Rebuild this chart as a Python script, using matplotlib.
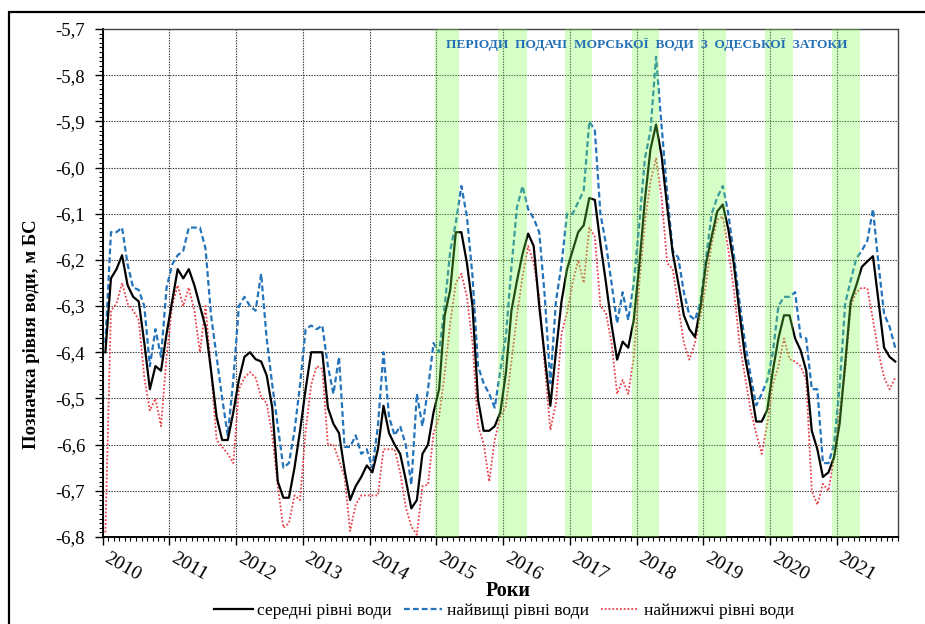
import numpy as np
import matplotlib
matplotlib.use('Agg')
import matplotlib.pyplot as plt
from matplotlib import transforms
from matplotlib.patches import Rectangle
from matplotlib.lines import Line2D
from matplotlib.ticker import FixedLocator, FuncFormatter

plt.rcParams['font.family'] = ['Liberation Serif', 'DejaVu Serif']
plt.rcParams['axes.unicode_minus'] = False

# ---------------- data ----------------
year_labels = ['2010', '2011', '2012', '2013', '2014', '2015', '2016', '2017', '2018', '2019', '2020', '2021']
y_ticks = [-6.8, -6.7, -6.6, -6.5, -6.4, -6.3, -6.2, -6.1, -6.0, -5.9, -5.8, -5.7]

# monthly values Jan 2010 .. Nov 2021
mean_level = [
    -6.40, -6.24, -6.22, -6.19, -6.255, -6.28, -6.29, -6.38, -6.48, -6.43, -6.44, -6.36,
    -6.29, -6.22, -6.24, -6.22, -6.255, -6.30, -6.345, -6.44, -6.54, -6.59, -6.59, -6.53,
    -6.46, -6.41, -6.40, -6.415, -6.42, -6.45, -6.52, -6.68, -6.715, -6.715, -6.65, -6.57,
    -6.48, -6.40, -6.40, -6.40, -6.52, -6.555, -6.575, -6.655, -6.72, -6.69, -6.67, -6.645,
    -6.66, -6.61, -6.516, -6.575, -6.60, -6.62, -6.676, -6.738, -6.72, -6.62, -6.60, -6.53,
    -6.48, -6.32, -6.265, -6.14, -6.14, -6.207, -6.30, -6.503, -6.57, -6.57, -6.56, -6.53,
    -6.445, -6.31, -6.245, -6.187, -6.143, -6.17, -6.30, -6.41, -6.516, -6.40, -6.29, -6.22,
    -6.18, -6.14, -6.125, -6.066, -6.07, -6.165, -6.25, -6.34, -6.416, -6.377, -6.39, -6.33,
    -6.21, -6.07, -5.96, -5.907, -5.975, -6.085, -6.185, -6.25, -6.32, -6.35, -6.367, -6.30,
    -6.207, -6.149, -6.095, -6.08, -6.134, -6.21, -6.315, -6.41, -6.474, -6.55, -6.55, -6.525,
    -6.44, -6.37, -6.32, -6.32, -6.37, -6.396, -6.44, -6.57, -6.61, -6.67, -6.66, -6.627,
    -6.555, -6.425, -6.29, -6.255, -6.215, -6.203, -6.192, -6.29, -6.39, -6.41, -6.42,
]
max_level = [
    -6.38, -6.14, -6.14, -6.13, -6.21, -6.26, -6.265, -6.30, -6.43, -6.35, -6.41, -6.26,
    -6.21, -6.19, -6.18, -6.13, -6.13, -6.13, -6.175, -6.32, -6.41, -6.50, -6.58, -6.46,
    -6.30, -6.28, -6.30, -6.31, -6.23, -6.37, -6.47, -6.56, -6.65, -6.64, -6.57, -6.47,
    -6.35, -6.342, -6.35, -6.342, -6.43, -6.49, -6.41, -6.605, -6.605, -6.58, -6.62, -6.61,
    -6.65, -6.56, -6.40, -6.54, -6.58, -6.56, -6.60, -6.687, -6.49, -6.56, -6.48, -6.38,
    -6.40, -6.30, -6.18, -6.12, -6.04, -6.106, -6.235, -6.43, -6.467, -6.49, -6.52, -6.44,
    -6.366, -6.216, -6.086, -6.04, -6.09, -6.11, -6.14, -6.28, -6.467, -6.29, -6.21, -6.10,
    -6.10, -6.075, -6.05, -5.90, -5.92, -6.10, -6.166, -6.25, -6.337, -6.27, -6.33, -6.25,
    -6.12, -5.98, -5.92, -5.76, -5.91, -6.055, -6.18, -6.195, -6.27, -6.32, -6.33, -6.29,
    -6.195, -6.10, -6.065, -6.04, -6.10, -6.19, -6.29, -6.38, -6.45, -6.515, -6.49, -6.46,
    -6.40, -6.30, -6.28, -6.28, -6.27, -6.367, -6.37, -6.48, -6.48, -6.64, -6.64, -6.60,
    -6.475, -6.295, -6.244, -6.197, -6.18, -6.158, -6.09, -6.21, -6.317, -6.345, -6.39,
]
min_level = [
    -6.79, -6.31, -6.295, -6.25, -6.295, -6.31, -6.33, -6.455, -6.526, -6.50, -6.56, -6.41,
    -6.30, -6.255, -6.30, -6.26, -6.31, -6.40, -6.30, -6.44, -6.59, -6.605, -6.62, -6.64,
    -6.48, -6.455, -6.443, -6.455, -6.497, -6.51, -6.58, -6.69, -6.78, -6.77, -6.71, -6.72,
    -6.57, -6.47, -6.43, -6.436, -6.60, -6.60, -6.634, -6.67, -6.787, -6.73, -6.71, -6.71,
    -6.71, -6.71, -6.61, -6.61, -6.61, -6.66, -6.735, -6.777, -6.795, -6.69, -6.687, -6.575,
    -6.54, -6.445, -6.337, -6.25, -6.23, -6.28, -6.38, -6.56, -6.597, -6.68, -6.59, -6.54,
    -6.517, -6.42, -6.32, -6.236, -6.17, -6.207, -6.28, -6.43, -6.568, -6.51, -6.36, -6.315,
    -6.25, -6.20, -6.25, -6.13, -6.15, -6.30, -6.315, -6.38, -6.49, -6.46, -6.49, -6.41,
    -6.25, -6.12, -6.03, -5.98, -6.065, -6.207, -6.22, -6.30, -6.38, -6.416, -6.38, -6.32,
    -6.25, -6.165, -6.113, -6.106, -6.178, -6.265, -6.38, -6.452, -6.525, -6.575, -6.62, -6.555,
    -6.47, -6.43, -6.37, -6.415, -6.42, -6.43, -6.46, -6.70, -6.73, -6.685, -6.70, -6.63,
    -6.53, -6.44, -6.30, -6.27, -6.26, -6.262, -6.33, -6.40, -6.455, -6.48, -6.455,
]

# sea-water supply periods (fractional years)
band_start = [2014.985, 2015.925, 2016.93, 2017.925, 2018.925, 2019.925, 2020.93]
band_end = [2015.34, 2016.36, 2017.335, 2018.335, 2019.34, 2020.345, 2021.35]

labels = ['середні рівні води', 'найвищі рівні води', 'найнижчі рівні води']
title_text = 'ПЕРІОДИ  ПОДАЧІ  МОРСЬКОЇ  ВОДИ  З  ОДЕСЬКОЇ  ЗАТОКИ'
ylabel_text = 'Позначка рівня води, м БС'
xlabel_text = 'Роки'

# ---------------- figure ----------------
W, H = 925, 624
fig = plt.figure(figsize=(W / 100, H / 100), dpi=100)
L, R, T, B = 102.6, 898.0, 29.0, 537.0
ax = fig.add_axes([L / W, 1 - B / H, (R - L) / W, (B - T) / H])

n = len(mean_level)
x = 2010 + (np.arange(n) + 0.5) / 12.0

blue = '#2474bb'
red = '#e8424a'
ax.plot(x, min_level, color=red, lw=1.3, ls=(0, (1, 1.1)), zorder=3)
ax.plot(x, max_level, color=blue, lw=1.6, ls=(0, (2.6, 1.4)), zorder=3)
ax.plot(x, mean_level, color='black', lw=1.6, zorder=3.5)

for s, e in zip(band_start, band_end):
    ax.axvspan(s, e, color='#76ff48', alpha=0.3, lw=0, zorder=4)

x0, x1 = 2010, 2010 + 143 / 12.0
ax.set_xlim(x0, x1)
ax.set_ylim(y_ticks[0], y_ticks[-1])

years = [2010 + k for k in range(len(year_labels))]
ax.xaxis.set_major_locator(FixedLocator(years))
ax.xaxis.set_minor_locator(FixedLocator(2010 + np.arange(0, 144) / 12.0))
ax.set_xticklabels([])
ax.yaxis.set_major_locator(FixedLocator(y_ticks))
ax.yaxis.set_minor_locator(FixedLocator(np.round(np.arange(-6.8, -5.695, 0.01), 3)))
ax.yaxis.set_major_formatter(FuncFormatter(lambda v, p: f'{v:.1f}'.replace('.', ',')))

ax.tick_params(which='major', direction='out', length=5.5, width=1.0, color='black')
ax.tick_params(which='minor', direction='out', length=3.2, width=0.8, color='black')
ax.tick_params(axis='y', labelsize=13.5, pad=7)

ax.grid(True, which='major', color='#333333', lw=0.8, ls=(0, (1.2, 1.2)), zorder=1)
ax.set_axisbelow(True)
for side in ['left', 'bottom']:
    ax.spines[side].set_linewidth(1.4)
    ax.spines[side].set_color('black')
for side in ['top', 'right']:
    ax.spines[side].set_linewidth(1.0)
    ax.spines[side].set_color('#444444')

# year labels
trans = transforms.blended_transform_factory(ax.transData, ax.transAxes)
for yr, lab in zip(years, year_labels):
    ax.text(yr + 0.3, -30 / (B - T), lab, transform=trans, rotation=-30,
            ha='center', va='center', fontsize=14, clip_on=False)

# title inside the plot
fig.text(647 / W, 1 - 45 / H, title_text, color='#2470b4', fontsize=9.6,
         fontweight='bold', ha='center', va='center', zorder=6)

fig.text(32 / W, 1 - 334 / H, ylabel_text, rotation=90, ha='center', va='center',
         fontsize=13.5, fontweight='bold')
fig.text(508 / W, 1 - 591 / H, xlabel_text, ha='center', va='center',
         fontsize=14.5, fontweight='bold')

handles = [Line2D([], [], color='black', lw=1.6),
           Line2D([], [], color=blue, lw=1.6, ls=(0, (2.6, 1.4))),
           Line2D([], [], color=red, lw=1.3, ls=(0, (1, 1.1)))]
fig.legend(handles, labels, loc='center', bbox_to_anchor=(504 / W, 13 / H), ncol=3,
           frameon=False, fontsize=12.6, handlelength=2.2, handletextpad=0.25,
           columnspacing=0.7, borderaxespad=0, borderpad=0)

# outer frame (top and left edges visible)
fig.add_artist(Rectangle((8.5 / W, -0.2), 1.2, 1.2 - 12 / H, transform=fig.transFigure,
                         fill=False, lw=1.6, edgecolor='black', clip_on=False))

fig.savefig('out.png', dpi=100)
